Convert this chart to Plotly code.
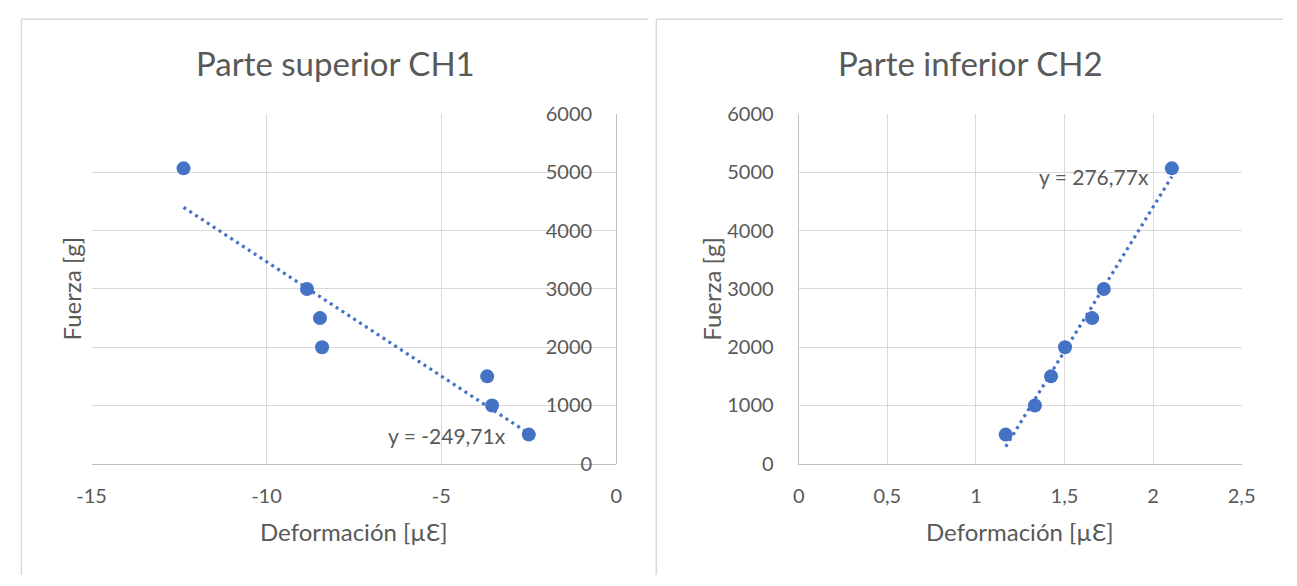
import numpy as np
import plotly.graph_objects as go

# ---- data -------------------------------------------------------------
fuerza = [5070, 3000, 2500, 2000, 1500, 1000, 500]
def_ch1 = [-12.37, -8.84, -8.47, -8.41, -3.69, -3.55, -2.50]

fuerza_ch2 = [500, 1000, 1500, 2000, 2500, 3000, 5070]
def_ch2 = [1.168, 1.333, 1.424, 1.503, 1.656, 1.722, 2.106]

titulos = ["Parte superior CH1", "Parte inferior CH2"]
ecuaciones = ["y = -249,71x", "y = 276,77x"]

x1_ticks = [-15, -10, -5, 0]
x1_labels = ["-15", "-10", "-5", "0"]
x2_ticks = [0, 0.5, 1, 1.5, 2, 2.5]
x2_labels = ["0", "0,5", "1", "1,5", "2", "2,5"]
y_ticks = [0, 1000, 2000, 3000, 4000, 5000, 6000]
y_labels = ["0", "1000", "2000", "3000", "4000", "5000", "6000"]

# ---- style ------------------------------------------------------------
W, H = 1297, 586
AZUL = "#4472C4"
TXT = "#595959"
GRID = "#d9d9d9"
AXLINE = "#bfbfbf"
FONT = "Lato"


def px(x):
    return x / W


def py(y):
    return 1 - y / H


fig = go.Figure()


def serie(x, y, xa, ya):
    fig.add_trace(go.Scatter(x=x, y=y, mode="markers", xaxis=xa, yaxis=ya,
                             marker=dict(color=AZUL, size=14), showlegend=False))
    # linear trend line over the data range
    m, b = np.polyfit(x, y, 1)
    xs = np.array([min(x), max(x)])
    fig.add_trace(go.Scatter(x=xs, y=m * xs + b, mode="lines", xaxis=xa, yaxis=ya,
                             line=dict(color=AZUL, width=3.2, dash="3px,4px"),
                             showlegend=False))


serie(def_ch1, fuerza, "x", "y")
serie(def_ch2, fuerza_ch2, "x2", "y2")

y_dom = [py(470), py(105.5)]
common_x = dict(showgrid=True, gridcolor=GRID, gridwidth=1.3, zeroline=False,
                showline=True, linecolor=AXLINE, linewidth=1.3, ticks="",
                tickfont=dict(family=FONT, size=20, color=TXT),
                ticklabelstandoff=14)
common_y = dict(range=[0, 6000], tickvals=y_ticks, ticktext=y_labels,
                showgrid=True, gridcolor=GRID, gridwidth=1.3, zeroline=False,
                showline=True, linecolor=AXLINE, linewidth=1.3, ticks="",
                tickfont=dict(family=FONT, size=20, color=TXT), domain=y_dom,
                ticklabelstandoff=20)

fig.update_layout(
    width=W, height=H,
    margin=dict(l=0, r=0, t=0, b=0),
    paper_bgcolor="white", plot_bgcolor="white",
    font=dict(family=FONT, color=TXT),
    xaxis=dict(common_x, domain=[px(78.3), px(615)], range=[-15, 0],
               tickvals=x1_ticks, ticktext=x1_labels, anchor="y"),
    # the value axis crosses the horizontal axis at x = 0 (right edge)
    yaxis=dict(common_y, anchor="free", position=px(615), side="left"),
    xaxis2=dict(common_x, domain=[px(801.7), px(1254.7)], range=[0, 2.5],
                tickvals=x2_ticks, ticktext=x2_labels, anchor="y2"),
    yaxis2=dict(common_y, anchor="x2", side="left"),
)

# chart frames
for x0, x1 in [(6.5, 648), (656, 1297)]:
    fig.add_shape(type="line", xref="paper", yref="paper",
                  x0=px(x0), x1=px(x1), y0=py(6.5), y1=py(6.5),
                  line=dict(color=GRID, width=1.5))
    fig.add_shape(type="line", xref="paper", yref="paper",
                  x0=px(x0), x1=px(x0), y0=py(6.5), y1=0,
                  line=dict(color=GRID, width=1.5))

# titles and axis titles
for i, (cx, px_c, yt_x) in enumerate([(327.5, 346.7, 58), (977, 1028.2, 713)]):
    fig.add_annotation(text=titulos[i], xref="paper", yref="paper",
                       x=px(cx), y=py(52), showarrow=False,
                       xanchor="center", yanchor="middle",
                       font=dict(family=FONT, size=33, color=TXT))
    fig.add_annotation(text="Deformación [µƐ]", xref="paper", yref="paper",
                       x=px(px_c), y=py(541), showarrow=False,
                       xanchor="center", yanchor="middle",
                       font=dict(family=FONT, size=24, color=TXT))
    fig.add_annotation(text="Fuerza [g]", xref="paper", yref="paper",
                       x=px(yt_x), y=py(287.5), showarrow=False, textangle=-90,
                       xanchor="center", yanchor="middle",
                       font=dict(family=FONT, size=24, color=TXT))

# trend line equations
fig.add_annotation(text=ecuaciones[0], x=-4.84, y=477, xref="x", yref="y",
                   showarrow=False, font=dict(family=FONT, size=21, color=TXT))
fig.add_annotation(text=ecuaciones[1], x=1.667, y=4922, xref="x2", yref="y2",
                   showarrow=False, font=dict(family=FONT, size=21, color=TXT))

fig.write_html("out.html")
